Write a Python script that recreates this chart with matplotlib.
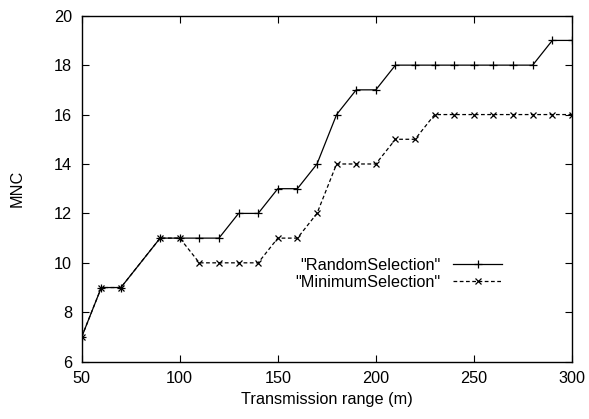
import matplotlib.pyplot as plt

# transmission range (m)
x = [50, 60, 70, 90, 100, 110, 120, 130, 140, 150, 160, 170, 180, 190, 200,
     210, 220, 230, 240, 250, 260, 270, 280, 290, 300]
# MNC for each selection scheme
random_sel = [7, 9, 9, 11, 11, 11, 11, 12, 12, 13, 13, 14, 16, 17, 17,
              18, 18, 18, 18, 18, 18, 18, 18, 19, 19]
minimum_sel = [7, 9, 9, 11, 11, 10, 10, 10, 10, 11, 11, 12, 14, 14, 14,
               15, 15, 16, 16, 16, 16, 16, 16, 16, 16]

plt.rcParams['font.family'] = ['Liberation Sans', 'DejaVu Sans']

fig = plt.figure(figsize=(5.89, 4.19), dpi=100)
ax = fig.add_axes([0.1387, 0.1368, 0.8323, 0.8257])

ax.plot(x, random_sel, color='black', lw=0.9, marker='+', ms=5.5, mew=0.9,
        label='"RandomSelection"')
ax.plot(x, minimum_sel, color='black', lw=0.9, ls=(0, (3, 2)), marker='x', ms=4.2,
        mew=0.9, label='"MinimumSelection"')

ax.set_xlim(50, 300)
ax.set_ylim(6, 20)
ax.set_xticks(range(50, 301, 50))
ax.set_yticks(range(6, 21, 2))
ax.tick_params(direction='in', top=True, right=True, labelsize=11.7, length=5, pad=7)
for s in ax.spines.values():
    s.set_linewidth(1.0)

ax.set_xlabel('Transmission range (m)', fontsize=11.7, labelpad=4)
ax.set_ylabel('MNC', fontsize=11.7, labelpad=21)

ax.legend(loc='upper right', bbox_to_anchor=(0.871, 0.318), markerfirst=False,
          frameon=False, fontsize=11.7, handlelength=3.0, handletextpad=0.82,
          labelspacing=0.12, borderaxespad=0)

plt.savefig('out.png', dpi=100)
